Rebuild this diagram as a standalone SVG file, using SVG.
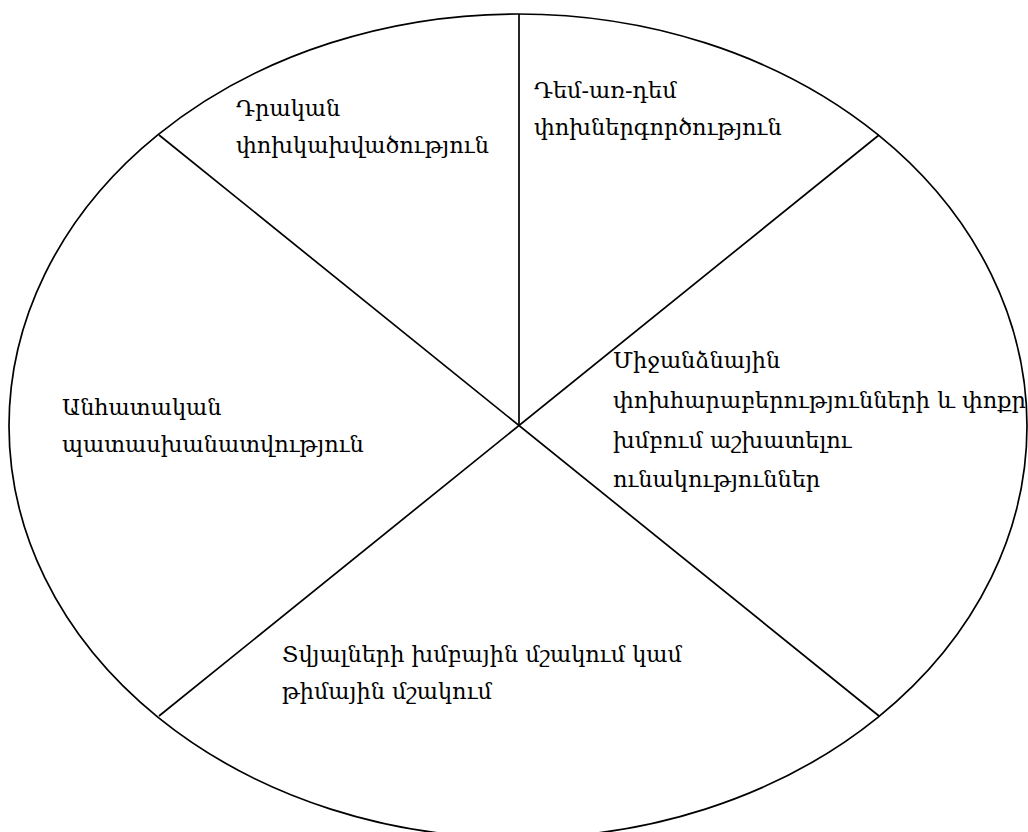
<svg xmlns="http://www.w3.org/2000/svg" width="1028" height="832" viewBox="0 0 1028 832">
<style>
.ln{stroke:#000;stroke-width:1.7;fill:none}
.t{font-family:"DejaVu Serif","Noto Serif",serif;font-size:22.4px;fill:#000}
</style>
<rect width="1028" height="832" fill="#fff"/>
<g id="circle"><ellipse class="ln" cx="518" cy="426" rx="509" ry="412"/></g>
<g id="connectors">
<line class="ln" x1="519" y1="14" x2="519" y2="426"/>
<line class="ln" x1="159" y1="135" x2="879" y2="716"/>
<line class="ln" x1="879" y1="135" x2="159" y2="716"/>
</g>
<g id="n1"><text class="t" x="236" y="116">Դրական</text><text class="t" x="236" y="153">փոխկախվածություն</text></g>
<g id="n2"><text class="t" x="534" y="98">Դեմ-առ-դեմ</text><text class="t" x="534" y="135">փոխներգործություն</text></g>
<g id="n3"><text class="t" x="613" y="368">Միջանձնային</text><text class="t" x="613" y="408">փոխհարաբերությունների և փոքր</text><text class="t" x="613" y="448">խմբում աշխատելու</text><text class="t" x="613" y="487">ունակություններ</text></g>
<g id="n4"><text class="t" x="62" y="415">Անհատական</text><text class="t" x="62" y="452">պատասխանատվություն</text></g>
<g id="n5"><text class="t" x="282" y="662">Տվյալների խմբային մշակում կամ</text><text class="t" x="282" y="699">թիմային մշակում</text></g>
</svg>
